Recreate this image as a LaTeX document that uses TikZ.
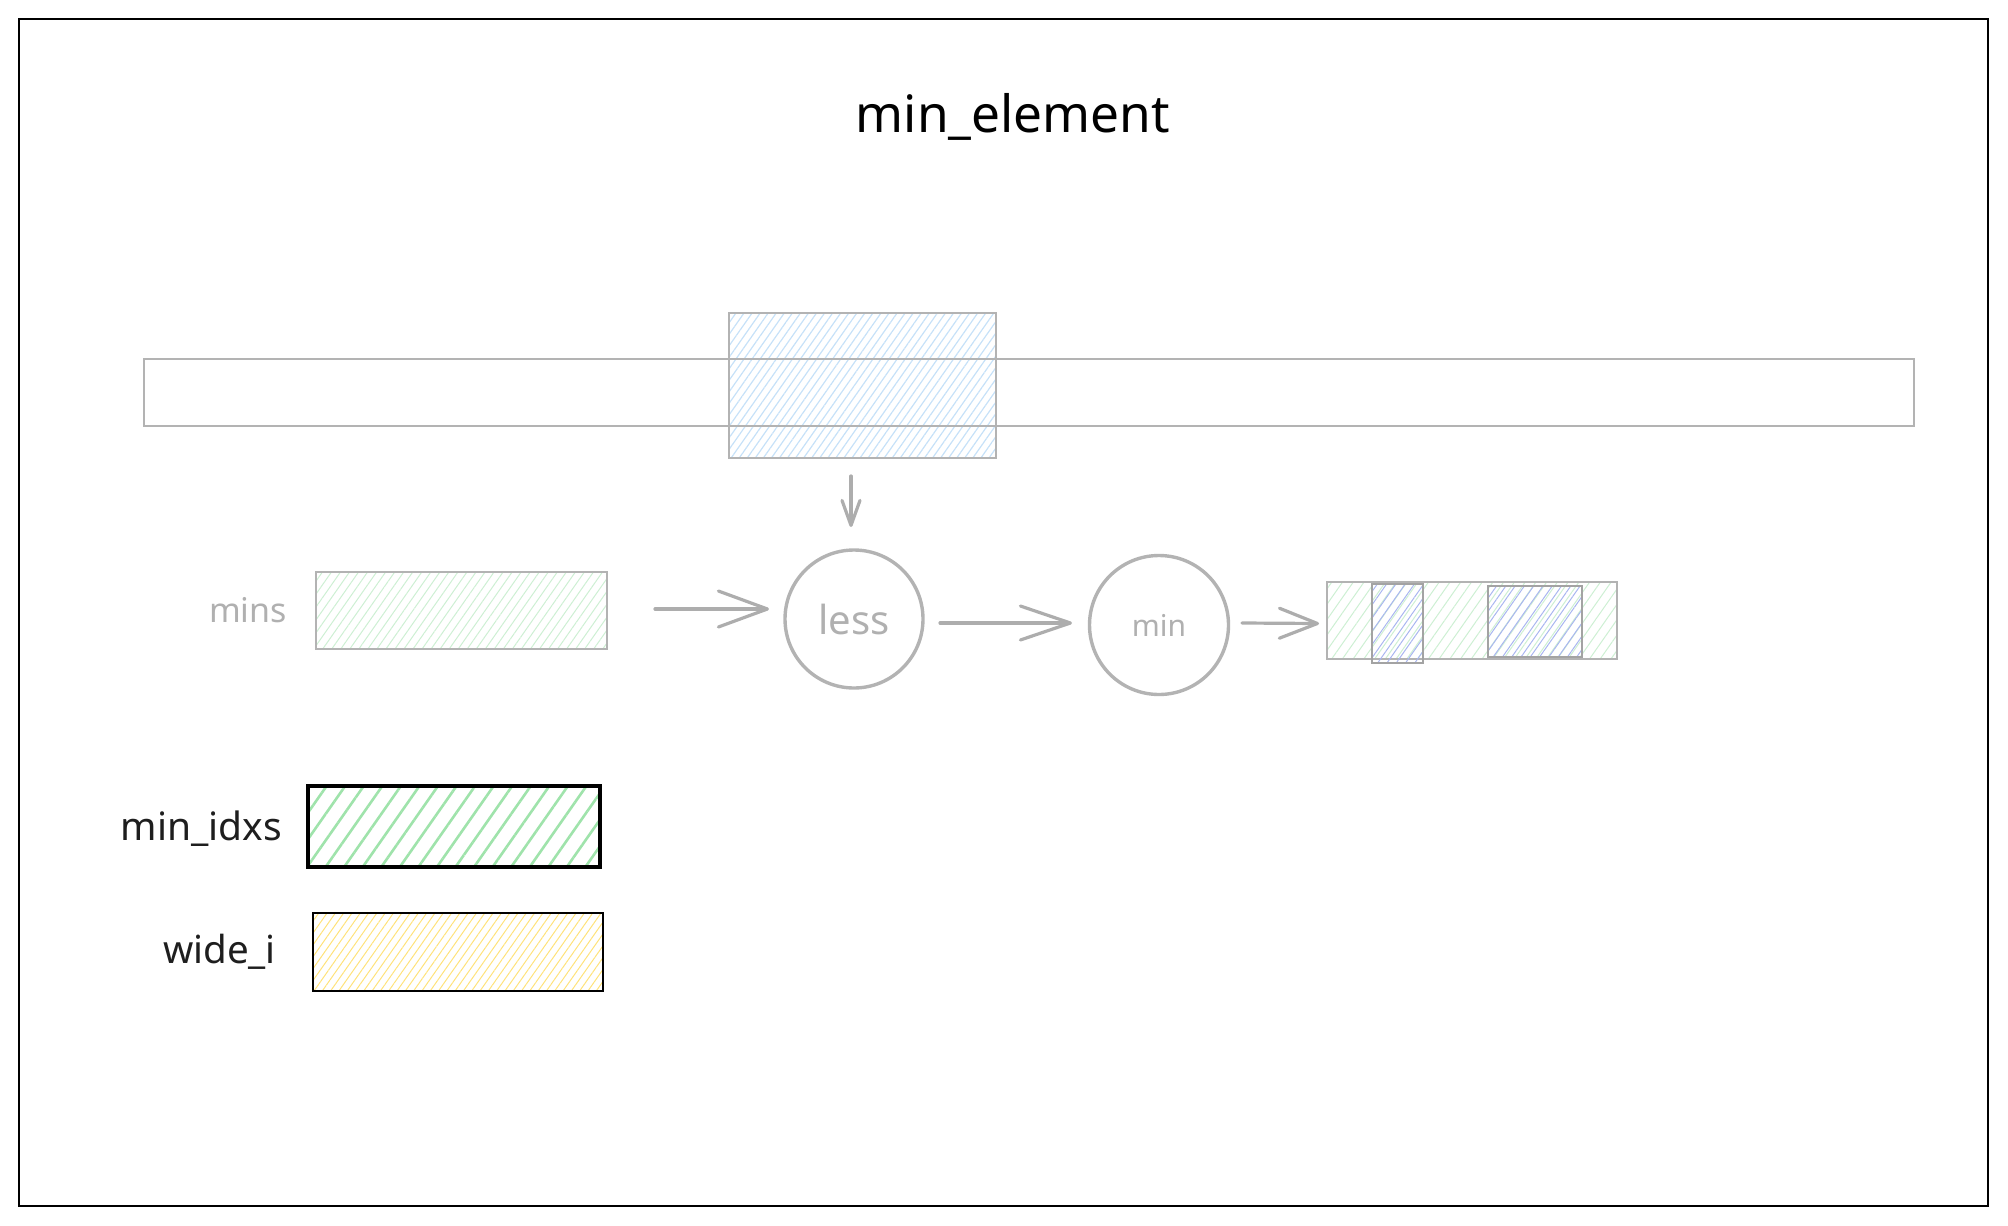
\documentclass[tikz,border=0pt]{standalone}
\usepackage{fontspec}
\setmainfont{Noto Sans}
\usetikzlibrary{arrows.meta,patterns.meta}
\definecolor{sk}{HTML}{B3B3B3}
\definecolor{skd}{HTML}{A3A3A3}
\definecolor{ag}{HTML}{ADADAD}
\definecolor{tg}{HTML}{B0B0B0}
\definecolor{ink}{HTML}{1E1E1E}
\definecolor{hblue}{HTML}{C6E1F8}
\definecolor{hgreenl}{HTML}{CDEFD3}
\definecolor{hgreen}{HTML}{9FE3AB}
\definecolor{hperi}{HTML}{A9B6F0}
\definecolor{hyellow}{HTML}{FFE27A}
\begin{document}
\begin{tikzpicture}[x=0.5pt,y=-0.5pt,
  box/.style={rectangle,draw=sk,line width=1pt,inner sep=0pt,outer sep=0pt},
  hatch/.style n args={3}{pattern={Lines[angle=55,distance=#1,line width=#2]},pattern color=#3},
  ring/.style={circle,draw=sk,line width=1.7pt,inner sep=0pt,outer sep=0pt,text=tg},
  arr/.style n args={2}{draw=ag,line width=1.6pt,line cap=round,-{Straight Barb[length=#1,width=#2,round]}},
  lbl/.style={anchor=base,inner sep=0pt}
]
\useasboundingbox (0,0) rectangle (2008,1226);
% frame
\draw[line width=1pt,draw=black] (19,19) rectangle (1988,1206);
% title
\node[lbl,font=\fontsize{25.7}{30}\selectfont,text=black] (title) at (1013,132) {min\_element};
% window and bar
\node[box,hatch={3.3pt}{0.6pt}{hblue},minimum width=133.5pt,minimum height=72.5pt] (win) at (862.5,385.5) {};
\node[box,minimum width=885pt,minimum height=33.5pt] (bar) at (1029,392.5) {};
% mins
\node[lbl,font=\fontsize{17}{20}\selectfont,text=tg] (minslbl) at (248,622) {mins};
\node[box,hatch={3.7pt}{0.5pt}{hgreenl},minimum width=145.5pt,minimum height=38.5pt] (mins) at (461.5,610.5) {};
% circles
\node[ring,minimum size=69pt,font=\fontsize{20}{24}\selectfont] (less) at (854,619) {less};
\node[ring,minimum size=69.5pt,font=\fontsize{15}{18}\selectfont] (min) at (1159,625) {min};
% result box
\node[box,hatch={4.4pt}{0.5pt}{hgreenl},minimum width=145pt,minimum height=38.5pt] (res) at (1472,620.5) {};
\node[box,draw=skd,hatch={3.8pt}{0.5pt}{hperi},minimum width=25.5pt,minimum height=39.5pt] (sub1) at (1397.5,623.5) {};
\node[box,draw=skd,hatch={3.8pt}{0.5pt}{hperi},minimum width=47pt,minimum height=35.5pt] (sub2) at (1535,621.5) {};
% arrows
\draw[arr={12.5pt}{9pt}] ([xshift=-5.75pt,yshift=-9pt]win.south) -- ([xshift=-1.5pt,yshift=11.5pt]less.north);
\draw[arr={24.5pt}{18pt}] ([xshift=24pt,yshift=0.75pt]mins.east) -- ([xshift=-8pt,yshift=5pt]less.west);
\draw[arr={25pt}{17pt}] ([xshift=8.5pt,yshift=-2pt]less.east) -- ([xshift=-8.75pt,yshift=1pt]min.west);
\draw[arr={19pt}{15pt}] ([xshift=6.75pt,yshift=1pt]min.east) -- ([xshift=-4pt,yshift=-1.5pt]res.west);
% legend
\node[lbl,font=\fontsize{19.5}{23}\selectfont,text=ink] (idxlbl) at (201.5,840) {min\_idxs};
\node[box,draw=black,line width=2pt,hatch={7.6pt}{1.3pt}{hgreen},minimum width=146pt,minimum height=40.5pt] (idx) at (454,826.5) {};
\node[lbl,font=\fontsize{19.3}{23}\selectfont,text=ink] (widelbl) at (219.5,963) {wide\_i};
\node[box,draw=black,line width=1.2pt,hatch={3.4pt}{0.5pt}{hyellow},minimum width=145pt,minimum height=39pt] (wide) at (458,952) {};
\end{tikzpicture}
\end{document}
